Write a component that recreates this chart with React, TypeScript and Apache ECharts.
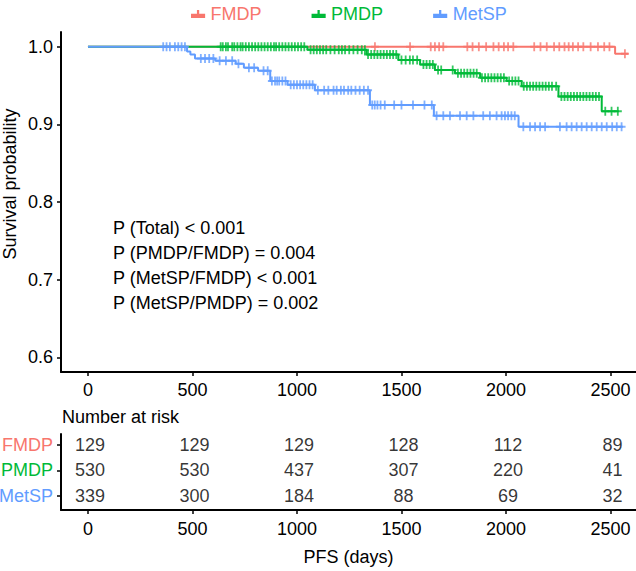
import React, { useEffect, useRef } from "react";
import * as echarts from "echarts";

const FONT = "'Liberation Sans', Arial, Helvetica, sans-serif";

const groups = ["FMDP", "PMDP", "MetSP"];
const colors = ["#F8766D", "#00BA38", "#619CFF"];

// Kaplan-Meier step points [day, survival]
const fmdpSteps: number[][] = [
  [0, 1], [2522, 0.991], [2585, 0.991],
];
const pmdpSteps: number[][] = [
  [0, 1], [1050, 0.996], [1333, 0.99], [1485, 0.983], [1589, 0.977], [1660, 0.97],
  [1756, 0.966], [1876, 0.96], [2003, 0.956], [2075, 0.949], [2251, 0.936],
  [2458, 0.917], [2540, 0.917],
];
const metspSteps: number[][] = [
  [0, 1], [474, 0.994], [490, 0.99], [512, 0.985], [609, 0.982], [707, 0.978],
  [746, 0.973], [814, 0.969], [872, 0.956], [955, 0.951], [1086, 0.944],
  [1349, 0.925], [1655, 0.911], [2060, 0.897], [2560, 0.897],
];

// censoring times (days)
const fmdpCensor = [
  1373, 1541, 1640, 1660, 1680, 1700, 1815, 1840, 1870, 1905, 1940, 1965, 1990,
  2010, 2035, 2135, 2165, 2195, 2230, 2255, 2280, 2300, 2320, 2345, 2370, 2405,
  2440, 2470, 2495, 2569,
];
const pmdpCensor = [
  635, 645, 660, 670, 690, 700, 715, 730, 740, 755, 770, 785, 800, 815, 830, 845,
  860, 875, 890, 900, 915, 930, 945, 960, 975, 990, 1005, 1020, 1035,
  1065, 1080, 1095, 1110, 1125, 1140, 1160, 1180, 1200, 1215, 1230, 1250, 1270,
  1290, 1310, 1325,
  1340, 1355, 1370, 1385, 1400, 1415, 1430, 1445, 1460, 1475,
  1500, 1520, 1540, 1555, 1575,
  1605, 1620, 1635, 1650,
  1675, 1690, 1745,
  1770, 1785, 1800, 1815, 1830, 1845, 1860,
  1885, 1900, 1915, 1930, 1945, 1960, 1975, 1990,
  2015, 2030, 2045, 2060,
  2085, 2100, 2115, 2130, 2145, 2160, 2175, 2190, 2205, 2220, 2240,
  2265, 2280, 2295, 2310, 2325, 2340, 2355, 2370, 2385, 2400, 2415, 2430, 2445,
  2475, 2505, 2535,
];
const metspCensor = [
  360, 376, 392, 416, 432, 448, 464,
  540, 560, 580, 600,
  630, 660, 690,
  720,
  770, 795,
  840, 860,
  880, 895, 905, 915, 930, 945,
  970, 985, 1000, 1015, 1030, 1045, 1060, 1075,
  1100, 1130, 1150, 1175, 1190, 1210, 1225, 1245, 1260, 1280, 1300, 1320, 1340,
  1360, 1372, 1385, 1400, 1420, 1465, 1500, 1555, 1610, 1645,
  1668, 1700, 1732, 1780, 1812, 1844, 1891, 1923, 1955, 1979, 1995, 2010, 2026, 2042,
  2083, 2115, 2139, 2163, 2187, 2258, 2290, 2314, 2338, 2362, 2386, 2410, 2434,
  2458, 2482, 2508, 2530, 2553,
];

// Number at risk table
const riskTimes = [0, 500, 1000, 1500, 2000, 2500];
const riskFMDP = [129, 129, 129, 128, 112, 89];
const riskPMDP = [530, 530, 437, 307, 220, 41];
const riskMetSP = [339, 300, 184, 88, 69, 32];

const xTicks = [0, 500, 1000, 1500, 2000, 2500];
const yTicks = [0.6, 0.7, 0.8, 0.9, 1.0];

const pTexts = [
  "P (Total) < 0.001",
  "P (PMDP/FMDP) = 0.004",
  "P (MetSP/FMDP) < 0.001",
  "P (MetSP/PMDP) = 0.002",
];

const PLUS = "path://M3.1,0H4.9V8H3.1Z M0,3.1H8V4.9H0Z";
const LEGEND_ICON = "path://M0,4H15V8.5H0Z M6.3,0H8.7V4H6.3Z";

function survAt(steps: number[][], t: number): number {
  let s = steps[0][1];
  for (const p of steps) {
    if (p[0] <= t) s = p[1];
  }
  return s;
}

export default function App() {
  const ref = useRef<HTMLDivElement>(null);
  useEffect(() => {
    if (!ref.current) return;
    const chart = echarts.init(ref.current, null, { renderer: "svg" });
    const stepsAll = [fmdpSteps, pmdpSteps, metspSteps];
    const censorAll = [fmdpCensor, pmdpCensor, metspCensor];
    const riskAll = [riskFMDP, riskPMDP, riskMetSP];
    const rowOf = [2, 1, 0];

    const series: any[] = [];
    groups.forEach((g, i) => {
      series.push({
        name: g,
        type: "line",
        step: "end",
        xAxisIndex: 0,
        yAxisIndex: 0,
        showSymbol: false,
        symbol: "none",
        color: colors[i],
        lineStyle: { color: colors[i], width: 2 },
        data: stepsAll[i],
        z: 2 + i * 2,
      });
      series.push({
        name: g + " censored",
        type: "scatter",
        xAxisIndex: 0,
        yAxisIndex: 0,
        symbol: PLUS,
        symbolSize: [8, 9],
        itemStyle: { color: colors[i] },
        data: censorAll[i].map((t) => [t, survAt(stepsAll[i], t)]),
        z: 3 + i * 2,
      });
      series.push({
        name: g + " risk",
        type: "scatter",
        xAxisIndex: 1,
        yAxisIndex: 1,
        symbolSize: 1,
        itemStyle: { color: "rgba(0,0,0,0)" },
        label: {
          show: true,
          position: "inside",
          offset: [2, 0],
          fontSize: 18,
          fontFamily: FONT,
          color: "#000",
          formatter: (p: any) => String(p.value[2]),
        },
        data: riskTimes.map((t, k) => [t, rowOf[i], riskAll[i][k]]),
      });
    });

    const axisLine = { show: true, onZero: false, lineStyle: { color: "#000", width: 2 } };
    const axisTick = { show: true, length: 4, lineStyle: { color: "#000", width: 1.5 } };
    const fmtX = (v: number) => String(v);

    chart.setOption({
      animation: false,
      textStyle: { fontFamily: FONT },
      legend: {
        left: 186,
        top: 0,
        itemWidth: 15,
        itemHeight: 8,
        itemGap: 50,
        icon: LEGEND_ICON,
        selectedMode: false,
        textStyle: { fontSize: 18, fontFamily: FONT },
        data: groups.map((g, i) => ({
          name: g,
          textStyle: { color: colors[i], fontSize: 18, fontFamily: FONT },
        })),
      },
      grid: [
        { left: 61, right: 0, top: 32, height: 340, containLabel: false, outerBoundsMode: "none" },
        { left: 61, right: 0, top: 434, height: 76, containLabel: false, outerBoundsMode: "none" },
      ],
      xAxis: [
        {
          type: "value",
          gridIndex: 0,
          min: -129,
          max: 2622,
          axisLine,
          axisTick: { ...axisTick, customValues: xTicks },
          axisLabel: { customValues: xTicks, fontSize: 18, color: "#000", margin: 9, fontFamily: FONT, formatter: fmtX },
          splitLine: { show: false },
        },
        {
          type: "value",
          gridIndex: 1,
          min: -129,
          max: 2622,
          name: "PFS (days)",
          nameLocation: "middle",
          nameGap: 38,
          nameTextStyle: { fontSize: 18, color: "#000", fontFamily: FONT },
          axisLine,
          axisTick: { ...axisTick, customValues: xTicks },
          axisLabel: { customValues: xTicks, fontSize: 18, color: "#000", margin: 10, fontFamily: FONT, formatter: fmtX },
          splitLine: { show: false },
        },
      ],
      yAxis: [
        {
          type: "value",
          gridIndex: 0,
          min: 0.581,
          max: 1.019,
          axisLine,
          axisTick: { ...axisTick, customValues: yTicks },
          axisLabel: {
            customValues: yTicks,
            fontSize: 18,
            color: "#000",
            margin: 8,
            fontFamily: FONT,
            formatter: (v: number) => v.toFixed(1),
          },
          splitLine: { show: false },
        },
        {
          type: "value",
          gridIndex: 1,
          min: -0.55,
          max: 2.43,
          axisLine,
          axisTick: { ...axisTick, customValues: [0, 1, 2] },
          axisLabel: {
            customValues: [0, 1, 2],
            fontSize: 18,
            margin: 8,
            fontFamily: FONT,
            formatter: (v: number) => {
              const idx = 2 - Math.round(v);
              return "{g" + idx + "|" + groups[idx] + "}";
            },
            rich: {
              g0: { color: colors[0], fontSize: 18, fontFamily: FONT },
              g1: { color: colors[1], fontSize: 18, fontFamily: FONT },
              g2: { color: colors[2], fontSize: 18, fontFamily: FONT },
            },
          },
          splitLine: { show: false },
        },
      ],
      graphic: [
        {
          type: "text",
          x: 10,
          y: 184,
          rotation: Math.PI / 2,
          style: {
            text: "Survival probability",
            fontSize: 18,
            fill: "#000",
            fontFamily: FONT,
            align: "center",
            verticalAlign: "middle",
          },
        },
        {
          type: "text",
          left: 62,
          top: 408,
          style: { text: "Number at risk", fontSize: 18, fill: "#000", fontFamily: FONT },
        },
        ...pTexts.map((t, k) => ({
          type: "text",
          left: 113,
          top: 219 + k * 25,
          style: { text: t, fontSize: 18, fill: "#000", fontFamily: FONT },
        })),
      ],
      series,
    });
    return () => chart.dispose();
  }, []);
  return (
    <div
      ref={ref}
      style={{ position: "fixed", left: 0, top: 0, width: 636, height: 571, background: "#fff" }}
    />
  );
}
